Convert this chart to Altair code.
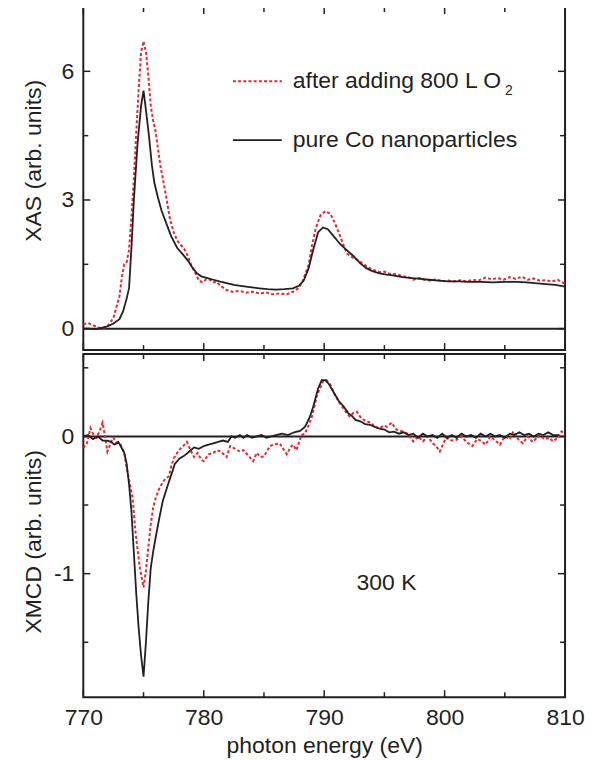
import altair as alt
import pandas as pd

# ---------------- data ----------------
xas_pure_E = [770.0, 770.5, 771.0, 771.5, 772.0, 772.5, 773.0, 773.3, 773.6, 773.8, 774.0, 774.2, 774.5,
              774.8, 775.0, 775.2, 775.45, 775.7, 775.9, 776.2, 776.5, 776.9, 777.3, 777.8, 778.3, 778.7,
              779.0, 779.4, 779.8, 780.3, 780.8, 781.3, 781.9, 782.5, 783.2, 784.0, 784.6, 785.3, 786.0,
              786.7, 787.4, 787.9, 788.3, 788.7, 789.1, 789.5, 789.9, 790.3, 790.8, 791.3, 791.8, 792.4,
              793.0, 793.5, 794.0, 794.6, 795.2, 795.7, 796.5, 797.3, 798.0, 798.7, 799.5, 800.3, 801.2,
              802.0, 803.0, 804.0, 805.0, 806.0, 806.8, 807.5, 808.4, 809.2, 810.0]
xas_pure_v = [0.00, 0.00, -0.01, 0.02, 0.05, 0.12, 0.22, 0.40, 0.70, 0.95, 1.9, 3.0, 4.3,
              5.2, 5.55, 5.1, 4.5, 3.8, 3.4, 3.05, 2.75, 2.45, 2.15, 1.88, 1.72, 1.58,
              1.45, 1.30, 1.22, 1.18, 1.14, 1.10, 1.06, 1.02, 0.99, 0.96, 0.94, 0.92, 0.91,
              0.92, 0.94, 1.00, 1.12, 1.40, 1.85, 2.25, 2.36, 2.32, 2.15, 1.98, 1.85, 1.70,
              1.52, 1.41, 1.34, 1.29, 1.26, 1.24, 1.20, 1.18, 1.16, 1.14, 1.12, 1.10, 1.10,
              1.09, 1.09, 1.08, 1.09, 1.09, 1.08, 1.06, 1.04, 1.02, 0.98]

xas_o2_E = [770.0, 770.4, 770.8, 771.2, 771.6, 772.0, 772.5, 773.0, 773.2, 773.4, 773.6, 773.8, 774.0,
            774.2, 774.4, 774.6, 774.8, 775.0, 775.2, 775.4, 775.6, 775.8, 776.0, 776.2, 776.4, 776.7,
            776.9, 777.2, 777.5, 777.8, 778.1, 778.4, 778.7, 779.0, 779.3, 779.6, 779.9, 780.2, 780.5,
            780.8, 781.0, 781.4, 781.9, 782.4, 783.0, 783.5, 784.1, 784.6, 785.2, 785.7, 786.3, 786.9,
            787.4, 787.9, 788.2, 788.7, 789.0, 789.3, 789.7, 790.1, 790.5, 790.8, 791.2, 791.6, 791.9,
            792.4, 792.8, 793.2, 793.7, 794.1, 794.6, 795.0, 795.4, 796.0, 796.5, 797.0, 797.4, 797.9,
            798.3, 798.8, 799.3, 799.8, 800.3, 800.8, 801.3, 801.8, 802.3, 802.8, 803.4, 803.9, 804.4,
            804.9, 805.4, 805.9, 806.4, 806.9, 807.4, 807.9, 808.4, 808.9, 809.4, 810.0]
xas_o2_v = [0.10, 0.13, 0.08, 0.03, 0.01, 0.05, 0.25, 0.75, 1.2, 1.5, 1.55, 1.85, 2.6,
            3.5, 4.6, 5.6, 6.45, 6.7, 6.45, 5.9, 5.2, 4.85, 4.6, 4.2, 3.8, 3.35,
            3.04, 2.55, 2.25, 2.05, 1.95, 1.85, 1.68, 1.45, 1.30, 1.12, 1.08, 1.15, 1.14,
            1.08, 1.10, 1.00, 0.90, 0.86, 0.88, 0.84, 0.86, 0.82, 0.84, 0.80, 0.82, 0.80,
            0.86, 0.95, 1.10, 1.48, 1.95, 2.34, 2.65, 2.74, 2.68, 2.52, 2.25, 1.95, 1.75,
            1.65, 1.60, 1.52, 1.42, 1.37, 1.32, 1.33, 1.28, 1.27, 1.22, 1.20, 1.14, 1.18,
            1.14, 1.12, 1.15, 1.10, 1.12, 1.10, 1.13, 1.10, 1.14, 1.12, 1.19, 1.15, 1.18,
            1.14, 1.20, 1.16, 1.21, 1.14, 1.17, 1.12, 1.13, 1.10, 1.14, 1.04]

xmcd_pure_E = [770.0, 770.4, 770.8, 771.2, 771.6, 772.0, 772.3, 772.6, 772.9, 773.1, 773.4, 773.6, 773.8,
               774.0, 774.2, 774.4, 774.6, 774.8, 775.0, 775.2, 775.4, 775.6, 775.8, 776.0, 776.3, 776.6,
               777.0, 777.3, 777.6, 778.0, 778.4, 778.8, 779.2, 779.6, 780.0, 780.4, 780.8, 781.2, 781.6,
               782.0, 782.3, 782.6, 783.0, 783.3, 783.6, 784.0, 784.4, 784.8, 785.2, 785.6, 786.0, 786.5,
               787.0, 787.5, 788.0, 788.4, 788.8, 789.1, 789.5, 789.8, 790.1, 790.4, 790.8, 791.2, 791.6,
               792.0, 792.3, 792.6, 793.0, 793.4, 793.8, 794.2, 794.6, 795.0, 795.4, 795.8, 796.2, 796.6,
               797.0, 797.4, 797.8, 798.2, 798.6, 799.0, 799.4, 799.8, 800.2, 800.6, 801.0, 801.4, 801.8,
               802.2, 802.6, 803.0, 803.4, 803.8, 804.2, 804.6, 805.0, 805.4, 805.8, 806.2, 806.6, 807.0,
               807.4, 807.8, 808.2, 808.6, 809.0, 809.5]
xmcd_pure_v = [0.00, 0.01, -0.02, 0.00, -0.03, -0.03, -0.04, -0.06, -0.04, -0.07, -0.12, -0.20, -0.35,
               -0.55, -0.85, -1.15, -1.40, -1.60, -1.75, -1.50, -1.20, -0.96, -0.84, -0.74, -0.60, -0.47,
               -0.36, -0.28, -0.20, -0.16, -0.14, -0.11, -0.08, -0.09, -0.07, -0.06, -0.05, -0.04, -0.03,
               -0.04, 0.00, -0.01, 0.01, -0.01, 0.01, -0.01, 0.00, 0.01, -0.01, 0.00, 0.01, 0.02,
               0.01, 0.03, 0.04, 0.07, 0.14, 0.22, 0.35, 0.41, 0.41, 0.38, 0.32, 0.26, 0.22,
               0.17, 0.15, 0.12, 0.11, 0.09, 0.085, 0.07, 0.056, 0.05, 0.03, 0.035, 0.02, 0.03,
               0.01, 0.02, -0.01, 0.02, 0.00, 0.01, -0.01, 0.02, -0.01, 0.01, -0.01, 0.02, 0.00,
               0.01, -0.01, 0.02, 0.00, 0.02, 0.00, 0.01, -0.01, 0.02, 0.01, 0.03, 0.01, 0.02,
               0.00, 0.02, 0.01, 0.03, 0.01, 0.01]

xmcd_o2_E = [770.0, 770.3, 770.6, 770.9, 771.1, 771.4, 771.6, 771.8, 772.0, 772.3, 772.5, 772.8, 773.1,
             773.4, 773.6, 773.9, 774.1, 774.3, 774.5, 774.7, 775.0, 775.2, 775.3, 775.6, 775.8, 776.0,
             776.3, 776.7, 777.1, 777.3, 777.5, 777.8, 778.1, 778.4, 778.6, 778.9, 779.2, 779.5, 779.8,
             780.0, 780.4, 780.8, 781.1, 781.4, 781.9, 782.2, 782.5, 783.0, 783.3, 783.7, 784.1, 784.4,
             784.7, 785.0, 785.5, 785.8, 786.3, 786.6, 786.9, 787.2, 787.4, 787.7, 788.1, 788.4, 788.7,
             789.0, 789.4, 789.9, 790.2, 790.5, 790.9, 791.3, 791.7, 792.1, 792.4, 792.7, 793.1, 793.5,
             793.9, 794.2, 794.6, 795.0, 795.2, 795.6, 796.0, 796.5, 796.9, 797.4, 797.8, 798.2, 798.6,
             799.0, 799.3, 799.6, 800.1, 800.6, 801.0, 801.4, 801.8, 802.3, 802.7, 803.0, 803.4, 803.8,
             804.2, 804.6, 805.0, 805.4, 805.7, 806.1, 806.5, 806.9, 807.3, 807.9, 808.3, 808.7, 809.0,
             809.4, 809.7, 810.0]
xmcd_o2_v = [-0.085, -0.05, 0.06, 0.00, -0.01, 0.05, 0.10, 0.00, -0.11, -0.04, -0.01, -0.05, -0.06,
             -0.12, -0.23, -0.36, -0.45, -0.67, -0.82, -0.96, -1.10, -0.98, -0.89, -0.64, -0.52, -0.45,
             -0.38, -0.32, -0.29, -0.22, -0.16, -0.12, -0.085, -0.06, -0.04, -0.10, -0.15, -0.12, -0.17,
             -0.18, -0.13, -0.12, -0.10, -0.11, -0.15, -0.07, -0.085, -0.11, -0.10, -0.14, -0.18, -0.12,
             -0.15, -0.146, -0.07, -0.06, -0.05, -0.09, -0.13, -0.08, -0.06, -0.10, 0.01, 0.02, 0.08,
             0.15, 0.30, 0.40, 0.41, 0.38, 0.30, 0.24, 0.19, 0.146, 0.17, 0.18, 0.13, 0.11,
             0.10, 0.07, 0.06, 0.08, 0.07, 0.10, 0.05, 0.036, 0.02, -0.036, 0.00, -0.036, 0.00,
             -0.05, -0.07, -0.11, -0.01, -0.03, -0.025, 0.00, -0.04, -0.07, -0.02, -0.03, -0.06, 0.00,
             -0.03, -0.06, 0.00, -0.02, 0.036, -0.02, -0.05, 0.00, -0.04, 0.01, -0.02, -0.01, -0.036,
             -0.01, 0.036, 0.02]

x_major = [770, 780, 790, 800, 810]
x_minor = [775, 785, 795, 805]
xas_major = [0, 3, 6]
xas_minor = [1.5, 4.5]
xmcd_major = [-1, 0]
xmcd_minor = [-1.5, -0.5, 0.5]

legend_labels = ["after adding 800 L O", "pure Co nanoparticles"]
subscript = "2"
temp_label = "300 K"
x_title = "photon energy (eV)"
xas_title = "XAS (arb. units)"
xmcd_title = "XMCD (arb. units)"

# ---------------- styling ----------------
W, H = 483, 344
INK = "#231f20"
RED = "#e8262d"
FONT = "Liberation Sans"
FS = 23
MAJ, MIN = 7, 5

xscale = alt.Scale(domain=[770, 810], nice=False, zero=False)
ys_top = alt.Scale(domain=[-0.5, 7.5], nice=False, zero=False)
ys_bot = alt.Scale(domain=[-1.9, 0.6], nice=False, zero=False)


def yaxis(values, title, title_y):
    return alt.Axis(values=values, title=title, ticks=False, tickSize=0, domain=False, grid=False,
                    labelPadding=9.5, labelFont=FONT, labelFontSize=FS, labelColor=INK,
                    labelExpr="replace(datum.label, '\u2212', '-')",
                    titleFont=FONT, titleFontSize=FS, titleColor=INK, titleFontWeight="normal",
                    titleAngle=270, titleX=-42.5, titleY=title_y, titleAlign="center",
                    titleBaseline="alphabetic")


xaxis_bottom = alt.Axis(values=x_major, format="d", title=x_title, ticks=False, tickSize=0,
                        domain=False, grid=False, labelFlush=False, labelPadding=27,
                        labelBaseline="alphabetic", labelFont=FONT, labelFontSize=FS, labelColor=INK,
                        titleFont=FONT, titleFontSize=FS, titleColor=INK, titleFontWeight="normal",
                        titleY=55, titleBaseline="alphabetic")


def panel(curves, yscale, yax, xax, ymaj, ymin, extras):
    def X():
        return alt.X("E:Q", scale=xscale, axis=xax)

    def Y():
        return alt.Y("v:Q", scale=yscale, axis=yax)

    layers = []
    # zero line
    layers.append(alt.Chart(pd.DataFrame({"v": [0]})).mark_rule(color=INK, strokeWidth=2).encode(y=Y()))
    # inward ticks on all four sides
    for vals, ln in ((x_major, MAJ), (x_minor, MIN)):
        d = pd.DataFrame({"E": vals})
        layers.append(alt.Chart(d).mark_rule(color=INK, strokeWidth=1.5).encode(
            x=X(), y=alt.value(0), y2=alt.value(ln)))
        layers.append(alt.Chart(d).mark_rule(color=INK, strokeWidth=1.5).encode(
            x=X(), y=alt.value(H), y2=alt.value(H - ln)))
    for vals, ln in ((ymaj, MAJ), (ymin, MIN)):
        d = pd.DataFrame({"v": vals})
        layers.append(alt.Chart(d).mark_rule(color=INK, strokeWidth=1.5).encode(
            y=Y(), x=alt.value(0), x2=alt.value(ln)))
        layers.append(alt.Chart(d).mark_rule(color=INK, strokeWidth=1.5).encode(
            y=Y(), x=alt.value(W), x2=alt.value(W - ln)))
    # curves
    for E, v, color, dash, sw in curves:
        d = pd.DataFrame({"E": E, "v": v})
        kw = dict(color=color, strokeWidth=sw, clip=True)
        if dash:
            kw["strokeDash"] = dash
        layers.append(alt.Chart(d).mark_line(**kw).encode(x=X(), y=Y()))
    layers.extend(extras)
    return alt.layer(*layers).properties(width=W, height=H)


one = pd.DataFrame({"k": [0]})
legend_layers = [
    alt.Chart(one).mark_rule(color=RED, strokeWidth=2, strokeDash=[3, 2.2]).encode(
        x=alt.value(150), x2=alt.value(199), y=alt.value(74.5)),
    alt.Chart(one).mark_rule(color=INK, strokeWidth=1.8).encode(
        x=alt.value(150), x2=alt.value(199), y=alt.value(133.5)),
    alt.Chart(pd.DataFrame({"t": [legend_labels[0]]})).mark_text(
        font=FONT, fontSize=FS, color=INK, align="left", baseline="middle").encode(
        text="t:N", x=alt.value(210), y=alt.value(74.5)),
    alt.Chart(pd.DataFrame({"t": [subscript]})).mark_text(
        font=FONT, fontSize=14, color=INK, align="left", baseline="middle").encode(
        text="t:N", x=alt.value(210 + 9.117 * FS + 3), y=alt.value(84.5)),
    alt.Chart(pd.DataFrame({"t": [legend_labels[1]]})).mark_text(
        font=FONT, fontSize=FS, color=INK, align="left", baseline="middle").encode(
        text="t:N", x=alt.value(210), y=alt.value(133.5)),
]

temp_layers = [
    alt.Chart(pd.DataFrame({"t": [temp_label]})).mark_text(
        font=FONT, fontSize=FS, color=INK, align="center", baseline="middle").encode(
        text="t:N", x=alt.value(304), y=alt.value(229.5)),
]

top = panel(
    [(xas_o2_E, xas_o2_v, RED, [3, 2.2], 2.0), (xas_pure_E, xas_pure_v, INK, None, 1.8)],
    ys_top, yaxis(xas_major, xas_title, 153.7), None, xas_major, xas_minor, legend_layers)

bottom = panel(
    [(xmcd_o2_E, xmcd_o2_v, RED, [3, 2.2], 2.0), (xmcd_pure_E, xmcd_pure_v, INK, None, 1.8)],
    ys_bot, yaxis(xmcd_major, xmcd_title, 187.7), xaxis_bottom, xmcd_major, xmcd_minor, temp_layers)

PAD = {"left": 13.5, "top": -4, "right": 0, "bottom": 0}
chart = alt.vconcat(top, bottom, spacing=0).resolve_scale(y="independent").properties(
    padding=PAD
).configure(
    background="white",
    padding=PAD,
    view=alt.ViewConfig(stroke=INK, strokeWidth=2),
)

chart.save("out.html", embed_options={"renderer": "svg", "actions": False})
